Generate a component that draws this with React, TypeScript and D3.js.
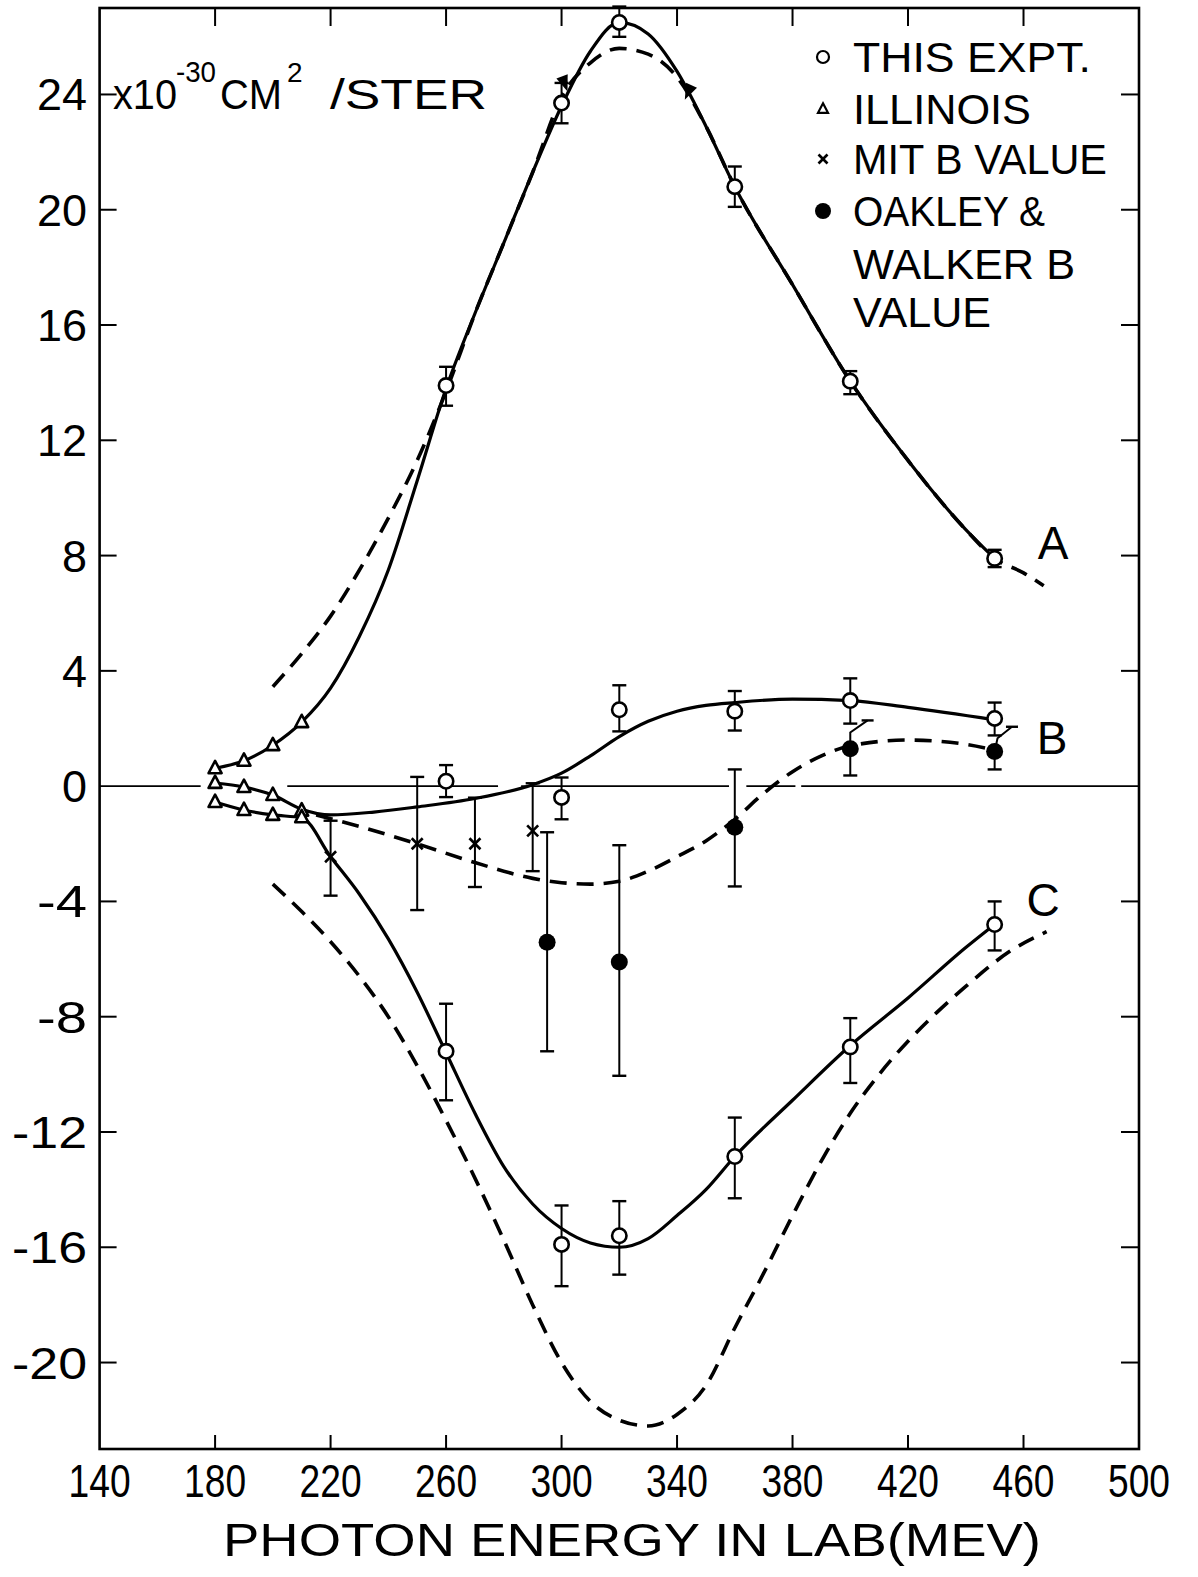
import React from 'react';
import * as d3 from 'd3';

// axis ticks
const xTicks = [140, 180, 220, 260, 300, 340, 380, 420, 460, 500];
const yTicks = [-20, -16, -12, -8, -4, 0, 4, 8, 12, 16, 20, 24];

// open circles "this expt." [energy, value, low, high]
const exptA = [
  [260, 13.9, 13.2, 14.55], [300, 23.7, 23.0, 24.4], [320, 26.5, 26.0, 27.05],
  [360, 20.8, 20.1, 21.5], [400, 14.05, 13.6, 14.4], [450, 7.9, 7.6, 8.2],
];
const exptB = [
  [260, 0.17, -0.38, 0.73], [300, -0.39, -1.15, 0.3], [320, 2.65, 1.9, 3.5],
  [360, 2.6, 1.93, 3.3], [400, 2.97, 2.17, 3.74], [450, 2.35, 1.76, 2.9],
];
const exptC = [
  [260, -9.2, -10.9, -7.55], [300, -15.9, -17.35, -14.55], [320, -15.6, -16.95, -14.4],
  [360, -12.85, -14.3, -11.5], [400, -9.05, -10.3, -8.05], [450, -4.8, -5.7, -4.0],
];

// illinois triangles
const illinoisA = [[180, 0.62], [190, 0.88], [200, 1.42], [210, 2.22]];
const illinoisB = [[180, 0.11], [190, -0.03], [200, -0.31], [210, -0.85]];
const illinoisC = [[180, -0.55], [190, -0.83], [200, -1.0], [210, -1.08]];

// MIT B value [energy, value, low, high]
const mitB = [[220, -2.45, -3.8, -1.2], [250, -2.0, -4.3, 0.32], [270, -2.0, -3.5, -0.4], [290, -1.55, -2.95, 0.1]];

// Oakley & Walker B value [energy, value, low, high]
const oakley = [[295, -5.42, -9.2, -1.6], [320, -6.1, -10.05, -2.05], [360, -1.43, -3.48, 0.58], [400, 1.3, 0.37, null], [450, 1.2, 0.58, null]];
// bent upper error bars [energy, bend value, cap energy, cap value]
const oakleyHooks = [[400, 1.86, 406, 2.28], [451, 1.66, 456, 2.06]];

// curves
const solidA = [
  [180, 0.62], [190, 0.88], [200, 1.42], [210, 2.22], [220, 3.4], [230, 5.2], [240, 7.5], [250, 10.6],
  [260, 13.8], [270, 16.4], [280, 18.85], [290, 21.3], [300, 23.6], [310, 25.5], [320, 26.5], [330, 26.1],
  [340, 24.8], [350, 22.9], [360, 20.8], [380, 17.4], [400, 14.05], [420, 11.3], [440, 8.9], [450, 7.9],
];
const dashedA = [
  [200, 3.45], [210, 4.6], [220, 5.9], [230, 7.5], [240, 9.3], [250, 11.3], [260, 13.7], [270, 16.4],
  [280, 18.85], [290, 21.3], [300, 23.9], [310, 25.1], [320, 25.6], [330, 25.4], [340, 24.6], [350, 22.9],
  [360, 20.8], [380, 17.4], [400, 14.05], [420, 11.3], [440, 8.9], [450, 7.9], [460, 7.4], [467, 6.95],
];
const solidB = [
  [180, 0.11], [190, -0.03], [200, -0.31], [210, -0.8], [220, -1.0], [235, -0.9], [250, -0.72], [270, -0.43],
  [290, 0.05], [300, 0.45], [310, 1.05], [320, 1.72], [330, 2.25], [340, 2.6], [350, 2.8], [360, 2.9],
  [380, 3.02], [400, 2.97], [420, 2.73], [450, 2.3],
];
const dashedB = [
  [215, -1.0], [230, -1.4], [250, -2.0], [270, -2.65], [290, -3.2], [300, -3.35], [310, -3.4], [320, -3.3],
  [330, -2.95], [340, -2.45], [350, -1.9], [360, -1.15], [370, -0.25], [380, 0.5], [390, 1.05], [400, 1.4],
  [420, 1.6], [440, 1.45], [450, 1.25],
];
const solidC = [
  [180, -0.55], [190, -0.83], [200, -1.0], [210, -1.1], [220, -2.45], [230, -3.75], [240, -5.3], [250, -7.15],
  [260, -9.25], [270, -11.35], [280, -13.2], [290, -14.5], [300, -15.35], [310, -15.85], [320, -16.0], [330, -15.7],
  [340, -14.9], [350, -14.0], [360, -12.85], [380, -10.9], [400, -9.0], [420, -7.35], [440, -5.6], [450, -4.8],
];
const dashedC = [
  [200, -3.4], [210, -4.35], [220, -5.4], [230, -6.6], [240, -8.0], [250, -9.7], [260, -11.6], [270, -13.6],
  [280, -15.75], [290, -18.0], [300, -20.0], [310, -21.35], [320, -22.0], [330, -22.2], [340, -21.8], [350, -20.8],
  [360, -18.8], [370, -16.9], [380, -14.9], [390, -13.0], [400, -11.35], [410, -10.0], [420, -8.85], [430, -7.85],
  [440, -6.95], [455, -5.75], [468, -5.05],
];

// arrow blobs where the dashed curve leaves the solid one
const arrowMarks = [[301, 24.4, 70], [344, 24.1, 115]];

// horizontal zero line pieces
const zeroSegments = [[140, 175], [205, 278], [286, 358], [364, 381], [383, 500]];

const legendItems = ['THIS  EXPT.', 'ILLINOIS', 'MIT B VALUE', 'OAKLEY  &'];
const legendExtra = ['WALKER  B', 'VALUE'];

const FONT = 'Liberation Sans, Arial, sans-serif';

function triPath(cx: number, cy: number, s: number) {
  const h = s * 0.95;
  return `M${cx},${cy - h * 0.6}L${cx + s / 2},${cy + h * 0.4}L${cx - s / 2},${cy + h * 0.4}Z`;
}

export default function App() {
  const x = d3.scaleLinear().domain([140, 500]).range([99.6, 1139]);
  const y = d3.scaleLinear().domain([-23, 27]).range([1449, 8]);

  const line = d3.line<number[]>()
    .x(d => x(d[0]))
    .y(d => y(d[1]))
    .curve(d3.curveMonotoneX);

  const solidStyle = { fill: 'none', stroke: '#000', strokeWidth: 3.2, strokeLinejoin: 'round' as const };
  const dashStyle = { fill: 'none', stroke: '#000', strokeWidth: 3.6, strokeDasharray: '17 10' };

  const errBar = (d: any[], key: string) => {
    const cx = x(d[0]);
    const els: any[] = [];
    const cap = 7;
    if (d[2] != null) {
      els.push(<line key={key + 'l'} x1={cx} x2={cx} y1={y(d[1])} y2={y(d[2])} stroke="#000" strokeWidth={2} />);
      els.push(<line key={key + 'lc'} x1={cx - cap} x2={cx + cap} y1={y(d[2])} y2={y(d[2])} stroke="#000" strokeWidth={2.4} />);
    }
    if (d[3] != null) {
      els.push(<line key={key + 'h'} x1={cx} x2={cx} y1={y(d[1])} y2={y(d[3])} stroke="#000" strokeWidth={2} />);
      els.push(<line key={key + 'hc'} x1={cx - cap} x2={cx + cap} y1={y(d[3])} y2={y(d[3])} stroke="#000" strokeWidth={2.4} />);
    }
    return els;
  };

  const xMark = (cx: number, cy: number, s: number, key: string) => (
    <g key={key} stroke="#000" strokeWidth={2.6}>
      <line x1={cx - s} x2={cx + s} y1={cy - s} y2={cy + s} />
      <line x1={cx - s} x2={cx + s} y1={cy + s} y2={cy - s} />
    </g>
  );

  return (
    <svg width={1198} height={1577} style={{ position: 'absolute', left: 0, top: 0, background: '#fff' }}
      fontFamily={FONT}>
      <rect x={0} y={0} width={1198} height={1577} fill="#fff" />

      {/* frame */}
      <rect x={x(140)} y={y(27)} width={x(500) - x(140)} height={y(-23) - y(27)}
        fill="none" stroke="#000" strokeWidth={2.6} />

      {/* ticks */}
      {xTicks.slice(1, -1).map(t => (
        <g key={'xt' + t} stroke="#000" strokeWidth={2}>
          <line x1={x(t)} x2={x(t)} y1={y(27)} y2={y(27) + 18} />
          <line x1={x(t)} x2={x(t)} y1={y(-23)} y2={y(-23) - 14} />
        </g>
      ))}
      {yTicks.filter(t => t !== 0).map(t => (
        <g key={'yt' + t} stroke="#000" strokeWidth={2}>
          <line x1={x(140)} x2={x(140) + 17} y1={y(t)} y2={y(t)} />
          <line x1={x(500)} x2={x(500) - 18} y1={y(t)} y2={y(t)} />
        </g>
      ))}

      {/* zero line */}
      {zeroSegments.map((s, i) => (
        <line key={'z' + i} x1={x(s[0])} x2={x(s[1])} y1={y(0)} y2={y(0)} stroke="#000" strokeWidth={1.6} />
      ))}

      {/* tick labels */}
      {xTicks.map(t => (
        <text key={'xl' + t} x={x(t)} y={1497} textAnchor="middle" fontSize={46}
          textLength={62} lengthAdjust="spacingAndGlyphs">{t}</text>
      ))}
      {yTicks.map(t => {
        const s = String(t);
        return (
          <text key={'yl' + t} x={87} y={y(t) + 16} textAnchor="end" fontSize={44}
            textLength={s.length * 25} lengthAdjust="spacingAndGlyphs">{s}</text>
        );
      })}

      {/* axis title */}
      <text x={223} y={1556} fontSize={46} textLength={818} lengthAdjust="spacingAndGlyphs">
        PHOTON ENERGY IN LAB(MEV)
      </text>

      {/* unit label */}
      <g fontSize={42}>
        <text x={113} y={109} textLength={64} lengthAdjust="spacingAndGlyphs">x10</text>
        <text x={176} y={82} fontSize={30} textLength={40} lengthAdjust="spacingAndGlyphs">-30</text>
        <text x={220} y={109} textLength={62} lengthAdjust="spacingAndGlyphs">CM</text>
        <text x={287} y={82} fontSize={28}>2</text>
        <text x={330} y={109} textLength={157} lengthAdjust="spacingAndGlyphs">/STER</text>
      </g>

      {/* curves */}
      <path d={line(solidA) || ''} {...solidStyle} />
      <path d={line(dashedA) || ''} {...dashStyle} />
      <path d={line(solidB) || ''} {...solidStyle} />
      <path d={line(dashedB) || ''} {...dashStyle} />
      <path d={line(solidC) || ''} {...solidStyle} />
      <path d={line(dashedC) || ''} {...dashStyle} />

      {arrowMarks.map((a, i) => (
        <path key={'am' + i} d="M-6,-7L6,-7L0,9Z" fill="#000"
          transform={`translate(${x(a[0])},${y(a[1])}) rotate(${a[2] - 90})`} />
      ))}

      {/* error bars */}
      {[...exptA, ...exptB, ...exptC].map((d, i) => errBar(d, 'e' + i))}
      {mitB.map((d, i) => errBar(d, 'm' + i))}
      {oakley.map((d, i) => errBar(d, 'o' + i))}
      {oakleyHooks.map((h, i) => {
        const base = oakley[3 + i];
        return (
          <g key={'hk' + i} stroke="#000" strokeWidth={2} fill="none">
            <polyline points={`${x(base[0])},${y(base[1])} ${x(h[0])},${y(h[1])} ${x(h[2])},${y(h[3])}`} />
            <line x1={x(h[2]) - 6} x2={x(h[2]) + 6} y1={y(h[3])} y2={y(h[3])} strokeWidth={2.4} />
          </g>
        );
      })}

      {/* markers */}
      {[...exptA, ...exptB, ...exptC].map((d, i) => (
        <circle key={'c' + i} cx={x(d[0])} cy={y(d[1])} r={7.2} fill="#fff" stroke="#000" strokeWidth={2.6} />
      ))}
      {[...illinoisA, ...illinoisB, ...illinoisC].map((d, i) => (
        <path key={'t' + i} d={triPath(x(d[0]), y(d[1]), 13)} fill="#fff" stroke="#000" strokeWidth={2.6}
          strokeLinejoin="round" />
      ))}
      {mitB.map((d, i) => xMark(x(d[0]), y(d[1]), 5.5, 'x' + i))}
      {oakley.map((d, i) => (
        <circle key={'f' + i} cx={x(d[0])} cy={y(d[1])} r={8.5} fill="#000" />
      ))}

      {/* curve labels */}
      <g fontSize={46} textAnchor="middle">
        <text x={1053} y={559}>A</text>
        <text x={1052} y={754}>B</text>
        <text x={1043} y={916}>C</text>
      </g>

      {/* legend */}
      <g fontSize={42}>
        <circle cx={823} cy={57} r={6} fill="#fff" stroke="#000" strokeWidth={2.2} />
        <path d={triPath(823, 109, 10)} fill="#fff" stroke="#000" strokeWidth={2.2} />
        {xMark(823, 159, 4.5, 'lx')}
        <circle cx={823} cy={211} r={8} fill="#000" />
        {legendItems.map((s, i) => (
          <text key={'lg' + i} x={853} y={[57, 109, 159, 211][i] + 15}
            textLength={[238, 178, 254, 192][i]} lengthAdjust="spacingAndGlyphs">{s}</text>
        ))}
        {legendExtra.map((s, i) => (
          <text key={'le' + i} x={853} y={[264, 312][i] + 15}
            textLength={[222, 138][i]} lengthAdjust="spacingAndGlyphs">{s}</text>
        ))}
      </g>
    </svg>
  );
}
